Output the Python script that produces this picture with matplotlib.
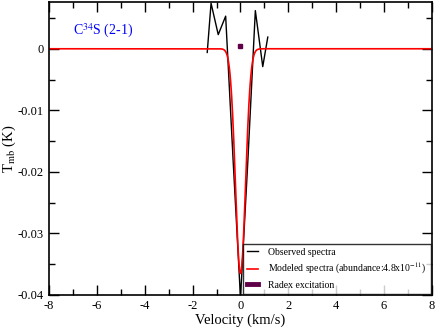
import numpy as np
import matplotlib
matplotlib.use('Agg')
import matplotlib.pyplot as plt
from matplotlib.ticker import MultipleLocator
from matplotlib.lines import Line2D

# ===== DATA =====
# observed channels (km/s, K)
obs_v = [-1.39, -1.23, -0.93, -0.62, -0.31, 0.0, 0.31, 0.62, 0.93, 1.14]
obs_t = [-0.0006, 0.0074, 0.0023, 0.0053, -0.018, -0.0405, -0.018, 0.0062, -0.0029, 0.0019]

# modeled gaussian line
model_center = 0.0
model_depth = -0.0365
model_sigma = 0.21

# radex point
radex_v = [0.0]
radex_t = [0.0004]

RADEX_COL = '#600048'

plt.rcParams['font.family'] = ['Liberation Serif', 'DejaVu Serif']
plt.rcParams['axes.unicode_minus'] = False
plt.rcParams['mathtext.fontset'] = 'stix'

fig = plt.figure(figsize=(4.36, 3.27), dpi=100)
ax = fig.add_axes([0.1124, 0.0979, 0.8784, 0.896])

model_v = np.linspace(-8, 8, 1601)
model_t = model_depth * np.exp(-(model_v - model_center)**2 / (2 * model_sigma**2))

ax.plot(obs_v, obs_t, color='black', lw=1.0)
ax.plot(model_v, model_t, color='red', lw=1.2)
ax.plot(radex_v, radex_t, ls='none', marker='s', ms=3, color=RADEX_COL)

ax.set_xlim(-8, 8)
ax.set_ylim(-0.04, 0.0076)
ax.xaxis.set_major_locator(MultipleLocator(2))
ax.xaxis.set_minor_locator(MultipleLocator(1))
ax.yaxis.set_major_locator(MultipleLocator(0.01))
ax.yaxis.set_minor_locator(MultipleLocator(0.005))
ax.yaxis.set_major_formatter(plt.FuncFormatter(lambda y, p: '0' if abs(y) < 1e-9 else '%g' % y))
ax.tick_params(which='both', direction='in', top=True, right=True, labelsize=9)
ax.tick_params(which='major', length=7, width=1)
ax.tick_params(which='minor', length=4, width=1)
for s in ax.spines.values():
    s.set_linewidth(1.2)

ax.set_xlabel('Velocity (km/s)', fontsize=10.5, labelpad=1)
ax.set_ylabel('T$_{\\rm mb}$ (K)', fontsize=10.5, labelpad=0)
ax.yaxis.set_label_coords(-0.082, 0.5)

ax.text(-7.0, 0.0022, 'C$^{34}$S (2-1)', color='blue', fontsize=10)

# legend, thick handle for radex
handles = [Line2D([], [], color='black', lw=1.0),
           Line2D([], [], color='red', lw=1.2),
           Line2D([], [], color=RADEX_COL, lw=3.5)]
labels = ['Observed spectra', 'Modeled spectra (abundance:4.8x10$^{-11}$)', 'Radex excitation']
leg = ax.legend(handles, labels, loc='lower right', fontsize=7, frameon=True,
                fancybox=False, edgecolor='black', borderaxespad=0.15,
                handlelength=1.2, handletextpad=1.0, labelspacing=0.45)
leg.get_frame().set_linewidth(1.0)

fig.savefig('out.png', dpi=100)
